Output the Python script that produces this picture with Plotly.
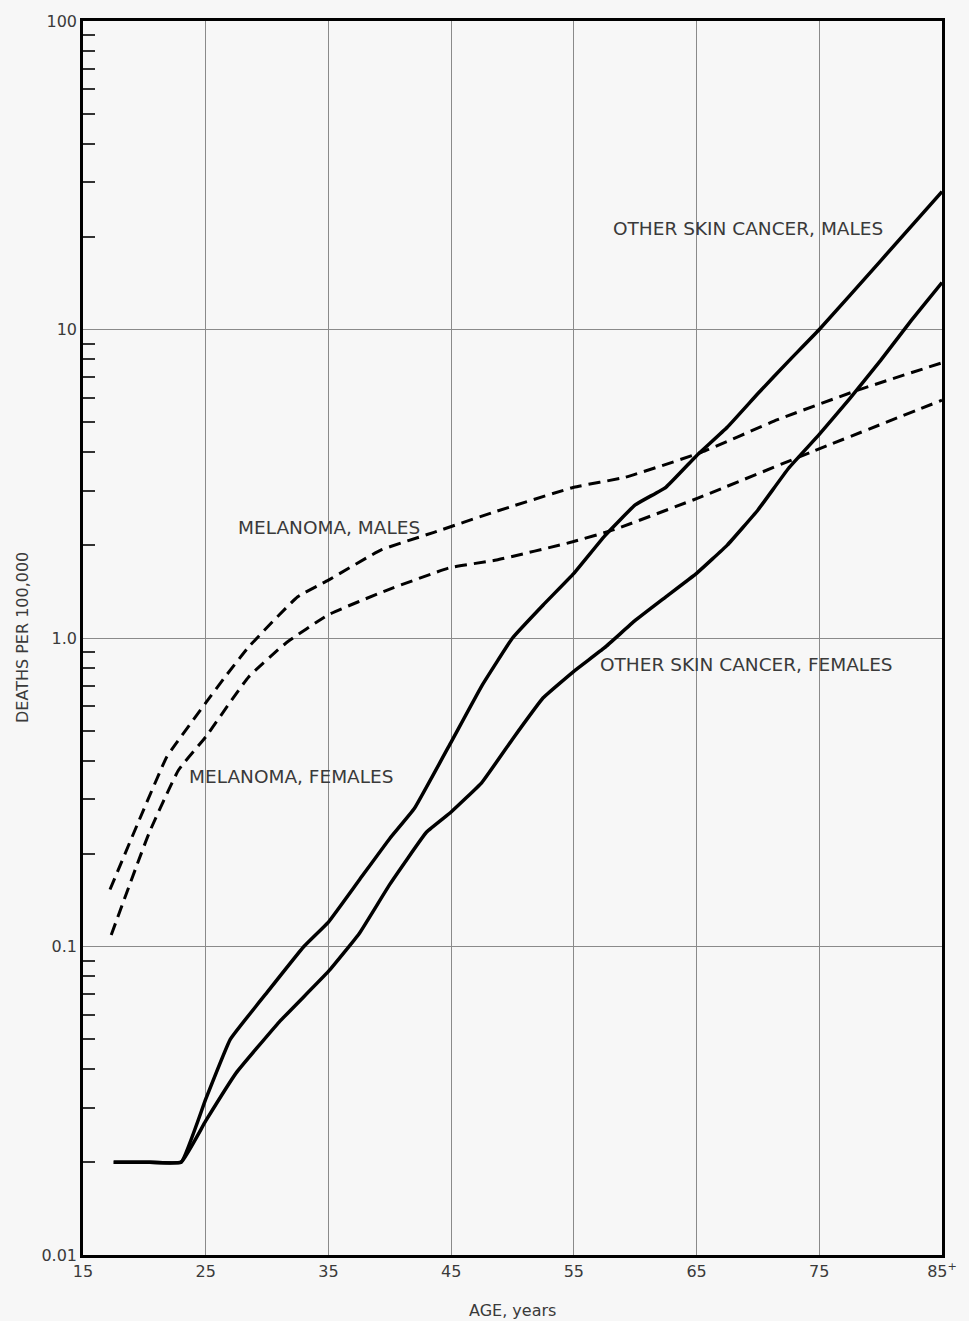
import plotly.graph_objects as go

# --- data ---
ages_other_m = [17.5, 20, 23, 25, 27, 30, 33, 35, 37.5, 40, 42, 45, 47.5, 50, 52.5, 55, 57.5, 60, 62.5, 65, 67.5, 70, 72.5, 75, 80, 85]
other_m = [0.02, 0.02, 0.02, 0.032, 0.05, 0.071, 0.10, 0.12, 0.164, 0.224, 0.28, 0.46, 0.70, 1.0, 1.28, 1.62, 2.14, 2.7, 3.08, 3.9, 4.82, 6.2, 7.9, 10.0, 16.7, 28.0]

ages_other_f = [17.5, 20, 23, 25, 27.5, 31, 35, 37.5, 40, 43, 45, 47.5, 50, 52.5, 55, 57.5, 60, 62.5, 65, 67.5, 70, 72.5, 75, 77.5, 80, 82.5, 85]
other_f = [0.02, 0.02, 0.02, 0.0272, 0.039, 0.057, 0.083, 0.11, 0.159, 0.235, 0.273, 0.34, 0.47, 0.64, 0.78, 0.93, 1.14, 1.36, 1.62, 2.0, 2.6, 3.55, 4.57, 5.98, 7.94, 10.7, 14.2]

ages_mel_m = [17.2, 19.6, 21.8, 22.5, 25, 26.6, 28.5, 32.5, 35, 39.3, 43.6, 48.5, 55, 59.2, 65.4, 71.6, 78.1, 85]
mel_m = [0.153, 0.258, 0.41, 0.45, 0.616, 0.75, 0.935, 1.36, 1.54, 1.93, 2.2, 2.56, 3.08, 3.32, 4.0, 5.1, 6.35, 7.8]

ages_mel_f = [17.3, 20.4, 22.8, 25, 28.5, 31.5, 35, 39.8, 44.9, 48.7, 54.9, 58.2, 65.1, 74.3, 85]
mel_f = [0.109, 0.234, 0.374, 0.478, 0.748, 0.96, 1.19, 1.43, 1.69, 1.79, 2.05, 2.24, 2.84, 4.0, 5.9]

x_ticks = [15, 25, 35, 45, 55, 65, 75, 85]
x_ticktext = ["15", "25", "35", "45", "55", "65", "75", "85<sup>+</sup>"]
y_ticks = [0.01, 0.1, 1.0, 10, 100]
y_ticktext = ["0.01", "0.1", "1.0", "10", "100"]
y_minor = [m * 10 ** e for e in range(-2, 2) for m in range(2, 10)]

labels = [
    ("OTHER SKIN CANCER, MALES", 58.0, 1.327),
    ("MELANOMA, MALES", 27.45, 0.359),
    ("MELANOMA, FEMALES", 23.5, -0.450),
    ("OTHER SKIN CANCER, FEMALES", 57.0, -0.087),
]

FONT = "DejaVu Sans"
TXT = "#3a3a3a"

fig = go.Figure()
solid = dict(color="black", width=3.5, shape="spline", smoothing=0.3)
dashed = dict(color="black", width=3, dash="12px,7px", shape="spline", smoothing=0.4)
fig.add_trace(go.Scatter(x=ages_other_m, y=other_m, mode="lines", line=solid, name="Other skin cancer, males"))
fig.add_trace(go.Scatter(x=ages_other_f, y=other_f, mode="lines", line=solid, name="Other skin cancer, females"))
fig.add_trace(go.Scatter(x=ages_mel_m, y=mel_m, mode="lines", line=dashed, name="Melanoma, males"))
fig.add_trace(go.Scatter(x=ages_mel_f, y=mel_f, mode="lines", line=dashed, name="Melanoma, females"))

for text, xv, yv in labels:
    fig.add_annotation(x=xv, y=yv, xref="x", yref="y", text=text, showarrow=False,
                       xanchor="left", yanchor="middle",
                       font=dict(family=FONT, size=18.5, color=TXT))

fig.add_annotation(x=0.5, y=0, xref="paper", yref="paper", text="AGE, years", showarrow=False,
                   xanchor="center", yanchor="middle", yshift=-55,
                   font=dict(family=FONT, size=16, color=TXT))
fig.add_annotation(x=0, y=0.5, xref="paper", yref="paper", text="DEATHS PER 100,000", showarrow=False,
                   textangle=-90, xanchor="center", yanchor="middle", xshift=-61,
                   font=dict(family=FONT, size=16, color=TXT))

fig.update_layout(
    width=969, height=1321,
    margin=dict(l=83, r=20, t=20, b=66),
    paper_bgcolor="#f7f7f7", plot_bgcolor="#f7f7f7",
    showlegend=False,
    font=dict(family=FONT, color=TXT),
)
fig.update_xaxes(
    range=[15, 85], tickmode="array", tickvals=x_ticks, ticktext=x_ticktext,
    showgrid=True, gridcolor="#8a8a8a", gridwidth=1,
    showline=True, linecolor="black", linewidth=2.5, mirror=True,
    ticks="", tickfont=dict(family=FONT, size=16, color=TXT), zeroline=False,
)
fig.update_yaxes(
    type="log", range=[-2, 2], tickmode="array", tickvals=y_ticks, ticktext=y_ticktext,
    showgrid=True, gridcolor="#8a8a8a", gridwidth=1,
    showline=True, linecolor="black", linewidth=2.5, mirror=True,
    ticks="", tickfont=dict(family=FONT, size=16, color=TXT),
    minor=dict(tickmode="array", tickvals=y_minor, ticks="inside", ticklen=12,
               tickwidth=1.5, tickcolor="#333333", showgrid=False),
)

fig.write_html("out.html", config={"displayModeBar": False},
               post_script="document.body.style.margin='0px';")
